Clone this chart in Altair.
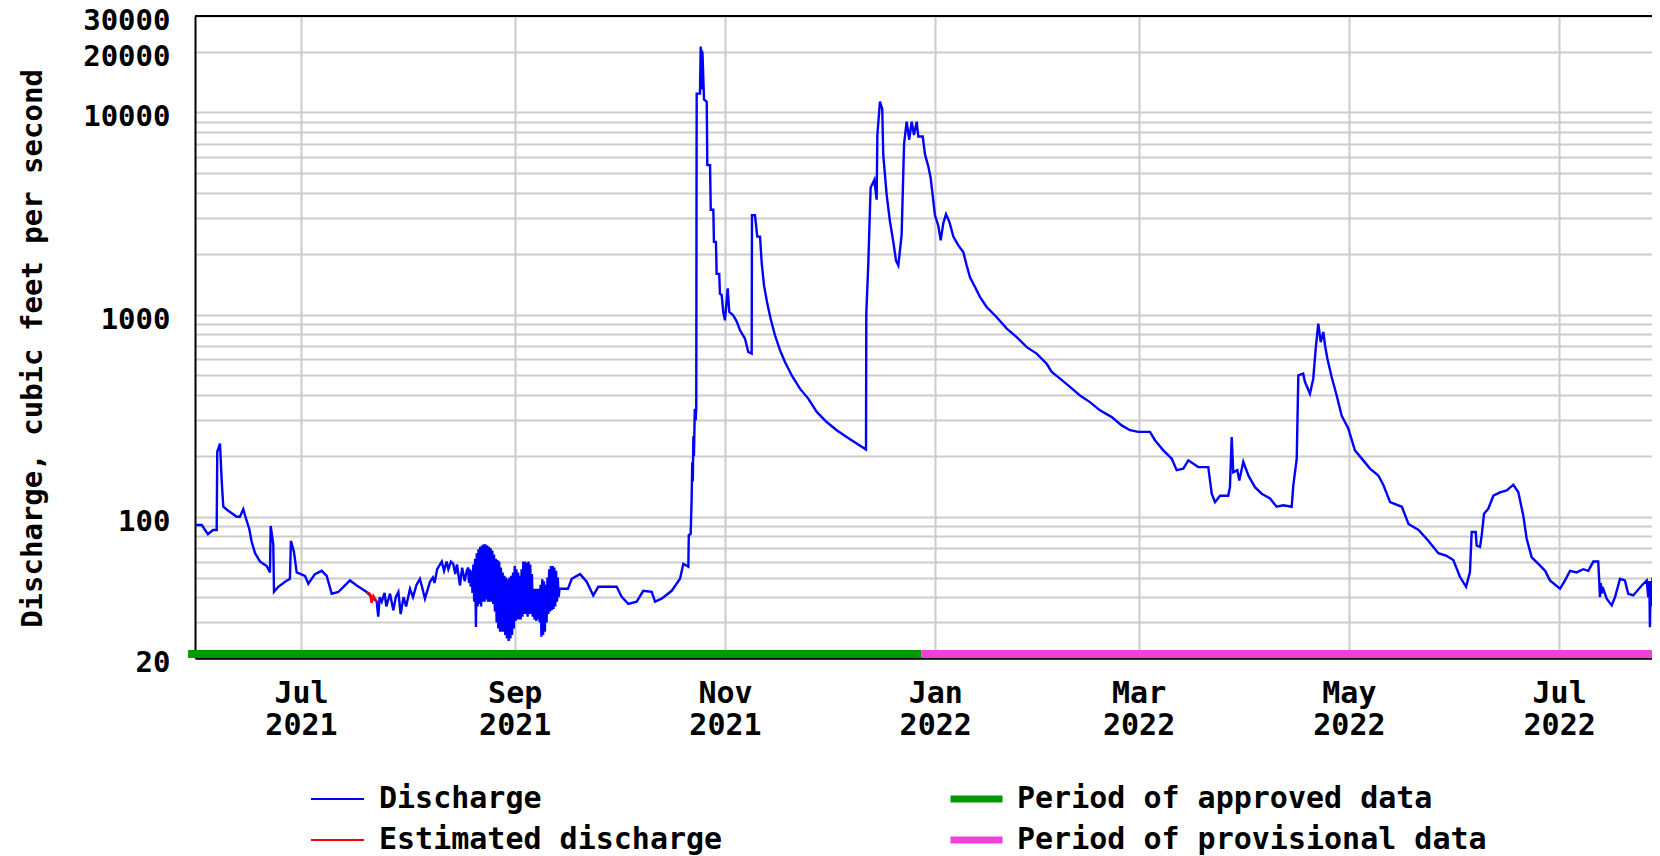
import altair as alt
import pandas as pd

FONT = "DejaVu Sans Mono"

# ---------------- data ----------------
dis_dates = [
    "2021-05-31T06:00", "2021-06-02T05:00", "2021-06-04T00:00", "2021-06-05T11:00", "2021-06-06T13:00",
    "2021-06-06T17:00", "2021-06-07T12:00", "2021-06-08T00:00", "2021-06-08T11:00", "2021-06-09T22:00",
    "2021-06-12T08:00", "2021-06-13T07:00", "2021-06-14T06:00", "2021-06-15T01:00", "2021-06-16T00:00",
    "2021-06-16T17:00", "2021-06-17T16:00", "2021-06-19T03:00", "2021-06-21T01:00", "2021-06-22T00:00",
    "2021-06-22T05:00", "2021-06-22T23:00", "2021-06-23T04:00", "2021-06-24T10:00", "2021-06-26T09:00",
    "2021-06-27T19:00", "2021-06-28T02:00", "2021-06-28T23:00", "2021-06-29T18:00", "2021-07-02T04:00",
    "2021-07-03T03:00", "2021-07-05T01:00", "2021-07-07T00:00", "2021-07-08T11:00", "2021-07-09T22:00",
    "2021-07-11T20:00", "2021-07-13T18:00", "2021-07-15T05:00", "2021-07-17T04:00", "2021-07-20T01:00",
    "2021-07-22T23:00", "2021-07-23T10:00", "2021-07-23T20:00", "2021-07-24T10:00", "2021-07-25T06:00",
    "2021-07-25T18:00", "2021-07-26T20:00", "2021-07-27T19:00", "2021-07-28T12:00", "2021-07-29T06:00",
    "2021-07-29T22:00", "2021-07-30T18:00", "2021-07-31T12:00", "2021-08-01T15:00", "2021-08-02T12:00",
    "2021-08-03T12:00", "2021-08-04T12:00", "2021-08-05T06:00", "2021-08-05T23:00", "2021-08-07T10:00",
    "2021-08-08T06:00", "2021-08-08T18:00", "2021-08-09T12:00", "2021-08-10T20:00", "2021-08-11T12:00",
    "2021-08-12T06:00", "2021-08-12T18:00", "2021-08-13T12:00", "2021-08-14T04:00", "2021-08-14T18:00",
    "2021-08-15T06:00", "2021-08-16T03:00", "2021-08-16T18:00", "2021-08-17T12:00", "2021-08-18T02:00",
    # dense fluctuation, late Aug to mid Sep 2021
    "2021-08-18T12:00", "2021-08-18T18:00", "2021-08-19T00:00", "2021-08-19T06:00", "2021-08-19T12:00",
    "2021-08-19T18:00", "2021-08-20T00:00", "2021-08-20T06:00", "2021-08-20T12:00", "2021-08-20T18:00",
    "2021-08-21T00:00", "2021-08-21T06:00", "2021-08-21T12:00", "2021-08-21T18:00", "2021-08-22T00:00",
    "2021-08-22T06:00", "2021-08-22T12:00", "2021-08-22T18:00", "2021-08-23T00:00", "2021-08-23T06:00",
    "2021-08-23T12:00", "2021-08-23T18:00", "2021-08-24T00:00", "2021-08-24T06:00", "2021-08-24T12:00",
    "2021-08-24T18:00", "2021-08-25T00:00", "2021-08-25T06:00", "2021-08-25T12:00", "2021-08-25T18:00",
    "2021-08-26T00:00", "2021-08-26T06:00", "2021-08-26T12:00", "2021-08-26T18:00", "2021-08-27T00:00",
    "2021-08-27T06:00", "2021-08-27T12:00", "2021-08-27T18:00", "2021-08-28T00:00", "2021-08-28T06:00",
    "2021-08-28T12:00", "2021-08-28T18:00", "2021-08-29T00:00", "2021-08-29T06:00", "2021-08-29T12:00",
    "2021-08-29T18:00", "2021-08-30T00:00", "2021-08-30T06:00", "2021-08-30T12:00", "2021-08-30T18:00",
    "2021-08-31T00:00", "2021-08-31T06:00", "2021-08-31T12:00", "2021-08-31T18:00", "2021-09-01T00:00",
    "2021-09-01T06:00", "2021-09-01T12:00", "2021-09-01T18:00", "2021-09-02T00:00", "2021-09-02T06:00",
    "2021-09-02T12:00", "2021-09-02T18:00", "2021-09-03T00:00", "2021-09-03T06:00", "2021-09-03T12:00",
    "2021-09-03T18:00", "2021-09-04T00:00", "2021-09-04T06:00", "2021-09-04T12:00", "2021-09-04T18:00",
    "2021-09-05T00:00", "2021-09-05T06:00", "2021-09-05T12:00", "2021-09-05T18:00", "2021-09-06T00:00",
    "2021-09-06T06:00", "2021-09-06T12:00", "2021-09-06T18:00", "2021-09-07T00:00", "2021-09-07T06:00",
    "2021-09-07T12:00", "2021-09-07T18:00", "2021-09-08T00:00", "2021-09-08T06:00", "2021-09-08T12:00",
    "2021-09-08T18:00", "2021-09-09T00:00", "2021-09-09T06:00", "2021-09-09T12:00", "2021-09-09T18:00",
    "2021-09-10T00:00", "2021-09-10T06:00", "2021-09-10T12:00", "2021-09-10T18:00", "2021-09-11T00:00",
    "2021-09-11T06:00", "2021-09-11T12:00", "2021-09-11T18:00", "2021-09-12T00:00", "2021-09-12T06:00",
    "2021-09-12T12:00", "2021-09-12T18:00", "2021-09-13T00:00", "2021-09-13T06:00", "2021-09-13T12:00",
    "2021-09-13T18:00", "2021-09-14T00:00",
    # recession and autumn storms
    "2021-09-14T15:00",
    "2021-09-16T11:00", "2021-09-17T13:00", "2021-09-19T23:00", "2021-09-21T21:00", "2021-09-23T19:00",
    "2021-09-25T06:00", "2021-09-30T14:00", "2021-10-02T01:00", "2021-10-03T23:00", "2021-10-06T09:00",
    "2021-10-08T07:00", "2021-10-10T18:00", "2021-10-11T17:00", "2021-10-13T15:00", "2021-10-16T13:00",
    "2021-10-18T23:00", "2021-10-19T22:00", "2021-10-21T09:00", "2021-10-21T12:00", "2021-10-22T01:00",
    "2021-10-22T08:00", "2021-10-22T12:00", "2021-10-22T16:00", "2021-10-22T20:00", "2021-10-23T00:00",
    "2021-10-23T06:00", "2021-10-23T12:00", "2021-10-23T16:00", "2021-10-23T19:00", "2021-10-24T18:00",
    "2021-10-24T23:00", "2021-10-25T02:00", "2021-10-25T05:00", "2021-10-25T08:00", "2021-10-25T11:00",
    "2021-10-25T22:00", "2021-10-26T17:00", "2021-10-26T21:00", "2021-10-27T16:00", "2021-10-27T21:00",
    "2021-10-28T15:00", "2021-10-28T19:00", "2021-10-29T09:00", "2021-10-29T14:00", "2021-10-30T08:00",
    "2021-10-30T13:00", "2021-10-31T01:00", "2021-10-31T12:00", "2021-11-01T00:00", "2021-11-01T19:00",
    "2021-11-02T06:00", "2021-11-03T10:00", "2021-11-04T10:00", "2021-11-05T09:00", "2021-11-06T19:00",
    "2021-11-07T18:00", "2021-11-08T18:00", "2021-11-08T20:00", "2021-11-09T17:00", "2021-11-10T09:00",
    "2021-11-11T04:00", "2021-11-11T16:00", "2021-11-12T08:00", "2021-11-13T07:00", "2021-11-14T06:00",
    "2021-11-15T12:00", "2021-11-16T23:00", "2021-11-18T10:00", "2021-11-20T09:00", "2021-11-22T18:00",
    "2021-11-25T04:00", "2021-11-27T15:00", "2021-11-30T12:00", "2021-12-03T10:00", "2021-12-06T07:00",
    "2021-12-09T05:00", "2021-12-11T22:00", "2021-12-12T00:00", "2021-12-12T14:00", "2021-12-13T06:00",
    "2021-12-14T08:00", "2021-12-15T00:00", "2021-12-15T05:00", "2021-12-15T23:00", "2021-12-16T15:00",
    "2021-12-16T22:00", "2021-12-17T22:00", "2021-12-18T21:00", "2021-12-19T20:00", "2021-12-20T15:00",
    "2021-12-21T07:00", "2021-12-22T06:00", "2021-12-22T23:00", "2021-12-23T17:00", "2021-12-24T11:00",
    "2021-12-25T04:00", "2021-12-25T20:00", "2021-12-26T15:00", "2021-12-27T02:00", "2021-12-28T09:00",
    "2021-12-29T01:00", "2021-12-30T00:00", "2021-12-30T16:00", "2021-12-31T06:00", "2021-12-31T22:00",
    "2022-01-01T21:00", "2022-01-02T14:00", "2022-01-03T08:00", "2022-01-04T03:00", "2022-01-05T02:00",
    "2022-01-06T06:00", "2022-01-07T17:00", "2022-01-09T03:00", "2022-01-10T03:00", "2022-01-11T02:00",
    "2022-01-12T13:00", "2022-01-14T00:00", "2022-01-15T22:00", "2022-01-18T20:00", "2022-01-21T18:00",
    "2022-01-24T15:00", "2022-01-27T13:00", "2022-01-30T10:00", "2022-02-02T08:00", "2022-02-03T19:00",
    "2022-02-06T05:00", "2022-02-09T02:00", "2022-02-12T00:00", "2022-02-14T21:00", "2022-02-17T19:00",
    "2022-02-21T05:00", "2022-02-24T02:00", "2022-02-26T12:00", "2022-02-28T22:00", "2022-03-04T07:00",
    "2022-03-05T18:00", "2022-03-08T04:00", "2022-03-10T14:00", "2022-03-12T01:00", "2022-03-13T23:00",
    "2022-03-15T10:00", "2022-03-18T07:00", "2022-03-21T05:00", "2022-03-22T05:00", "2022-03-23T04:00",
    "2022-03-24T15:00", "2022-03-27T00:00", "2022-03-27T12:00", "2022-03-28T00:00", "2022-03-28T11:00",
    "2022-03-29T15:00", "2022-03-30T05:00", "2022-03-31T09:00", "2022-04-01T20:00", "2022-04-03T18:00",
    "2022-04-05T17:00", "2022-04-08T03:00", "2022-04-10T01:00", "2022-04-11T23:00", "2022-04-14T10:00",
    "2022-04-14T21:00", "2022-04-15T21:00", "2022-04-16T08:00", "2022-04-17T18:00", "2022-04-18T06:00",
    "2022-04-19T17:00", "2022-04-20T16:00", "2022-04-21T09:00", "2022-04-22T03:00", "2022-04-22T20:00",
    "2022-04-23T14:00", "2022-04-24T02:00", "2022-04-24T18:00", "2022-04-26T00:00", "2022-04-27T11:00",
    "2022-04-28T22:00", "2022-04-30T20:00", "2022-05-02T18:00", "2022-05-05T04:00", "2022-05-07T03:00",
    "2022-05-09T13:00", "2022-05-11T01:00", "2022-05-12T23:00", "2022-05-16T09:00", "2022-05-18T07:00",
    "2022-05-21T05:00", "2022-05-24T01:00", "2022-05-26T23:00", "2022-05-29T09:00", "2022-05-31T07:00",
    "2022-06-02T06:00", "2022-06-04T00:00", "2022-06-05T03:00", "2022-06-05T15:00", "2022-06-06T19:00",
    "2022-06-07T02:00", "2022-06-08T01:00", "2022-06-08T13:00", "2022-06-09T05:00", "2022-06-10T11:00",
    "2022-06-11T22:00", "2022-06-13T20:00", "2022-06-15T19:00", "2022-06-17T17:00", "2022-06-19T04:00",
    "2022-06-20T14:00", "2022-06-21T14:00", "2022-06-23T01:00", "2022-06-24T23:00", "2022-06-26T22:00",
    "2022-06-28T08:00", "2022-07-01T06:00", "2022-07-02T17:00", "2022-07-04T04:00", "2022-07-06T02:00",
    "2022-07-08T00:00", "2022-07-09T11:00", "2022-07-10T22:00", "2022-07-12T08:00", "2022-07-12T15:00",
    "2022-07-12T20:00", "2022-07-13T02:00", "2022-07-13T08:00", "2022-07-13T14:00", "2022-07-14T19:00",
    "2022-07-16T06:00", "2022-07-17T05:00", "2022-07-18T16:00", "2022-07-20T02:00", "2022-07-21T01:00",
    "2022-07-22T12:00", "2022-07-24T23:00", "2022-07-26T10:00", "2022-07-26T20:00", "2022-07-27T04:00",
    "2022-07-27T08:00", "2022-07-27T14:00", "2022-07-27T20:00", "2022-07-28T02:00", "2022-07-28T08:00",
    "2022-07-28T14:00", "2022-07-29T06:00", "2022-07-29T18:00", "2022-07-30T06:00",
]
dis_values = [
    91, 91, 82, 86, 86,
    210, 230, 150, 112, 107,
    100, 100, 109, 98, 87,
    75, 66, 60, 57, 53,
    90, 73, 42.5, 45, 47.7,
    49.3, 76, 67, 53, 51,
    46.6, 52, 54, 51, 41.6,
    42.4, 45.7, 48.4, 45.7, 42.4,
    38, 32, 40, 38, 42,
    36, 41.6, 34.4, 40, 42.4,
    33, 40, 36, 44, 40,
    46, 49.3, 44, 39.3, 47.7,
    50, 47, 55, 60, 54,
    60, 55, 60, 58.5, 52,
    58, 45.7, 56, 48, 54,
    # dense fluctuation
    56, 47, 55, 45, 54,
    42, 58, 38, 62, 28.5,
    66, 36, 69, 37, 71,
    36, 72, 38, 73, 38,
    73, 39, 72, 38, 71,
    38, 70, 38, 68, 37,
    65, 34, 62, 30, 61,
    28, 60, 27, 56, 27,
    53, 27, 51, 26, 50,
    25, 49, 24.3, 50, 25,
    51, 26, 53, 28, 57,
    30.5, 55, 31, 53, 31,
    51, 31, 55, 32, 60,
    33, 60, 33, 59, 32,
    60, 33, 58, 33, 52,
    32, 44, 31, 44, 30.5,
    44, 31, 44, 30, 46,
    25.5, 49, 26, 48, 27,
    46, 30, 50, 33, 55,
    34, 57, 34.5, 57, 35,
    56, 36, 54, 38, 50,
    40, 44,
    # recession and autumn storms
    44,
    44, 49.3, 52, 47.7, 40.8,
    45, 45, 40.1, 37, 38,
    43, 42.5, 38, 39.3, 43,
    49.3, 58.5, 56.6, 81, 82,
    123, 186, 150, 250, 200,
    342, 300, 342, 12390, 12390,
    21200, 14000, 20400, 13000, 20000,
    11600, 11300, 5490, 5490, 3300,
    3300, 2290, 2290, 1590, 1590,
    1270, 1250, 1030, 937, 1350,
    1030, 990, 923, 836, 761,
    653, 641, 3100, 3100, 2430,
    2430, 1790, 1390, 1130, 954,
    790, 667, 583, 500, 430,
    384, 330, 294, 268, 248,
    230, 215, 1010, 1790, 4240,
    4640, 3700, 7740, 11300, 10400,
    6180, 3900, 2880, 2290, 1850,
    1750, 2480, 7000, 9000, 7330,
    9000, 7740, 9000, 7600, 7600,
    6180, 5400, 4740, 3900, 3100,
    2760, 2330, 2830, 3140, 2880,
    2430, 2200, 2040, 1750, 1530,
    1370, 1220, 1090, 970, 852,
    774, 690, 641, 571, 520,
    482, 439, 398, 369, 336,
    311, 283, 268, 263, 263,
    239, 213, 194, 170, 173,
    190, 176, 176, 130, 118,
    127, 127, 140, 248, 166,
    170, 151, 187, 160, 140,
    130, 123, 112, 114, 112,
    143, 194, 500, 510, 465,
    406, 482, 679, 903, 731,
    820, 704, 606, 491, 398,
    316, 273, 213, 190, 173,
    160, 143, 118, 112, 92,
    86, 76, 66, 64, 61,
    50.3, 45, 53.2, 84, 84,
    72, 71, 81, 103.5, 109.6,
    127, 132, 135, 144, 132,
    101.5, 77.8, 63, 58.5, 54,
    48.4, 44, 48.4, 54, 53,
    55, 54, 60, 60, 48.4,
    40, 47, 41.6, 45, 39.3,
    36.4, 40, 49.3, 48.4, 41.6,
    40.8, 45.7, 48.4, 40, 48,
    28.4, 48, 36, 50, 34,
    49, 48, 36, 47,
]

est_dates = ["2021-07-20T01:00", "2021-07-21T00:00", "2021-07-21T12:00", "2021-07-22T00:00", "2021-07-22T23:00"]
est_values = [42.4, 41.6, 37.5, 40.5, 38]

series_names = ["Discharge", "Estimated discharge"]
series_colors = ["#0000ff", "#ff0000"]

period_names = ["Period of approved data", "Period of provisional data"]
period_start = ["2021-05-29T06:00", "2021-12-28T00:00"]
period_end = ["2021-12-28T00:00", "2022-07-27T22:30"]
period_colors = ["#009900", "#f040d8"]

y_grid_values = [20, 30, 40, 50, 60, 70, 80, 90,
                 100, 200, 300, 400, 500, 600, 700, 800, 900,
                 1000, 2000, 3000, 4000, 5000, 6000, 7000, 8000, 9000,
                 10000, 20000, 30000]
y_label_values = [20, 100, 1000, 10000, 20000, 30000]
y_top = [30000]

x_tick_dates = [(2021, 7), (2021, 9), (2021, 11), (2022, 1), (2022, 3), (2022, 5), (2022, 7)]

# ---------------- tables ----------------
df_dis = pd.DataFrame({"date": dis_dates, "value": dis_values, "series": series_names[0]})
df_est = pd.DataFrame({"date": est_dates, "value": est_values, "series": series_names[1]})
df_per = pd.DataFrame({"period": period_names, "start": period_start, "end": period_end})
df_top = pd.DataFrame({"edge": y_top})

x_scale = alt.Scale(
    domain=[alt.DateTime(year=2021, month=5, date=31, hours=6),
            alt.DateTime(year=2022, month=7, date=27, hours=22, minutes=30)],
    nice=False,
)
y_scale = alt.Scale(type="log", domain=[20, 30000], nice=False)

x_axis = alt.Axis(
    values=[alt.DateTime(year=y, month=m, date=1) for y, m in x_tick_dates],
    labelExpr="[timeFormat(datum.value, '%b'), timeFormat(datum.value, '%Y')]",
    grid=True, gridColor="#cccccc", gridWidth=2,
    ticks=False, tickSize=0, labelPadding=20,
    labelFont=FONT, labelFontSize=30, labelFontWeight="bold", labelColor="black",
    labelLineHeight=32, labelBaseline="top", labelOverlap=False, labelFlush=False,
    domainColor="black", domainWidth=2.5,
)

label_list = ",".join(str(v) for v in y_label_values)
y_axis = alt.Axis(
    values=y_grid_values, format="d",
    labelExpr=f"indexof([{label_list}], datum.value) >= 0 ? datum.label : ''",
    grid=True, gridColor="#cccccc", gridWidth=2,
    ticks=False, tickSize=0, labelPadding=25, labelOffset=4.5,
    labelFont=FONT, labelFontSize=29, labelFontWeight="bold", labelColor="black",
    labelOverlap=False,
    domainColor="black", domainWidth=2,
    titleFont=FONT, titleFontSize=29, titleFontWeight="bold", titleColor="black",
    titleX=-163, titleY=332, titleAngle=270, titleAlign="center", titleBaseline="middle",
)

legend_common = dict(
    title=None, orient="none", legendY=768, direction="vertical",
    symbolType="stroke", clipHeight=30, rowPadding=11, padding=0,
    labelFont=FONT, labelFontSize=30, labelFontWeight="bold", labelColor="black",
    labelLimit=0,
)
leg_lines = alt.Legend(legendX=115, symbolSize=2809, symbolStrokeWidth=2, labelOffset=14, **legend_common)
leg_periods = alt.Legend(legendX=752, symbolSize=2704, symbolStrokeWidth=7, labelOffset=11, **legend_common)

color_scale = alt.Scale(domain=series_names, range=series_colors)
stroke_scale = alt.Scale(domain=period_names, range=period_colors)

line_dis = alt.Chart(df_dis).mark_line(strokeWidth=2.4, clip=True).encode(
    x=alt.X("date:T", scale=x_scale, axis=x_axis, title=None),
    y=alt.Y("value:Q", scale=y_scale, axis=y_axis, title="Discharge, cubic feet per second"),
    color=alt.Color("series:N", scale=color_scale, legend=leg_lines),
)
line_est = alt.Chart(df_est).mark_line(strokeWidth=2.4, clip=True).encode(
    x=alt.X("date:T", title=None),
    y=alt.Y("value:Q"),
    color=alt.Color("series:N", scale=color_scale, legend=leg_lines),
)
periods = alt.Chart(df_per).mark_rule(strokeWidth=8, yOffset=-4).encode(
    x=alt.X("start:T", title=None),
    x2="end:T",
    y=alt.datum(20),
    stroke=alt.Stroke("period:N", scale=stroke_scale, legend=leg_periods),
)
top_edge = alt.Chart(df_top).mark_rule(color="black", strokeWidth=2).encode(
    y=alt.Y("edge:Q"),
)

chart = alt.layer(line_dis, line_est, periods, top_edge).properties(
    width=1457, height=642,
    padding={"left": 187, "top": 8, "right": 0, "bottom": 198},
    autosize=alt.AutoSizeParams(type="none"),
    background="white",
).configure_view(strokeWidth=0)

chart.save("out.html", embed_options={"renderer": "svg", "actions": False})
